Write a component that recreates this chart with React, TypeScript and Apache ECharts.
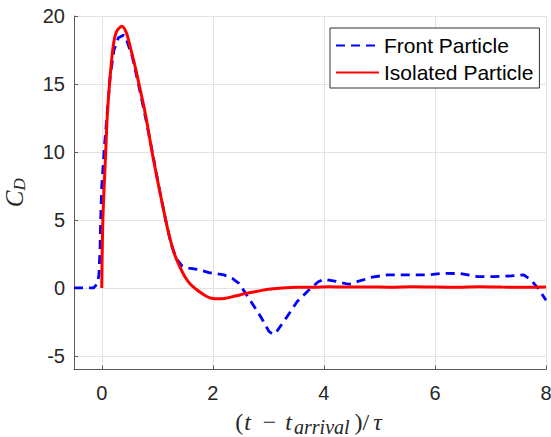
import React, { useEffect, useRef } from "react";
import * as echarts from "echarts";

const xTicks = [0, 2, 4, 6, 8];
const yTicks = [-5, 0, 5, 10, 15, 20];

const frontX = [
  -0.5, -0.15, -0.08, -0.05, -0.03, -0.02, 0.0, 0.05, 0.1, 0.15, 0.22, 0.3, 0.4, 0.45, 0.55, 0.67, 0.8,
  0.92, 1.05, 1.15, 1.25, 1.35, 1.45, 1.57, 1.75, 1.93, 2.2, 2.35, 2.47, 2.65, 2.86, 3.01, 3.08, 3.13,
  3.34, 3.52, 3.73, 3.9, 4.0, 4.24, 4.45, 4.6, 4.87, 5.14, 5.5, 5.86, 6.16, 6.46, 6.77, 7.07, 7.37, 7.6,
  7.73, 7.88, 8.0,
];
const frontY = [
  0, 0, 0.3, 1.0, 3.0, 5.0, 7.5, 10.5, 13.0, 15.5, 17.5, 18.4, 18.6, 18.2, 17.0, 14.8, 12.3,
  9.8, 7.0, 5.0, 3.2, 2.1, 1.6, 1.45, 1.35, 1.13, 0.96, 0.7, 0.34, -0.76, -2.1, -3.2, -3.4, -3.33,
  -2.1, -1.0, -0.15, 0.45, 0.64, 0.46, 0.27, 0.46, 0.79, 0.96, 0.96, 0.96, 1.08, 1.05, 0.83, 0.83, 0.88, 0.96,
  0.59, -0.15, -0.9,
];

const isoX = [
  0, 0.02, 0.07, 0.1, 0.14, 0.2, 0.26, 0.36, 0.44, 0.52, 0.6, 0.67, 0.79, 0.91, 1.0, 1.1, 1.2, 1.3, 1.4,
  1.5, 1.6, 1.7, 1.8, 1.9, 2.0, 2.1, 2.2, 2.4, 2.6, 2.8, 3.0, 3.2, 3.5, 3.8, 4.1, 4.4, 4.8, 5.2, 5.6,
  6.0, 6.4, 6.8, 7.2, 7.6, 8.0,
];
const isoY = [
  0, 5, 9.9, 12.7, 15, 17.6, 18.8, 19.25, 18.8, 17.6, 16.3, 15, 12.7, 9.9, 8.0, 6.0, 4.1, 2.6, 1.6,
  0.8, 0.25, -0.1, -0.4, -0.65, -0.78, -0.8, -0.78, -0.6, -0.4, -0.25, -0.1, -0.02, 0.05, 0.05, 0.08, 0.06, 0.07, 0.05, 0.08,
  0.06, 0.05, 0.08, 0.06, 0.05, 0.07,
];

const seriesNames = ["Front Particle", "Isolated Particle"];

export default function App() {
  const ref = useRef<HTMLDivElement>(null);
  useEffect(() => {
    if (!ref.current) return;
    const chart = echarts.init(ref.current, null, { renderer: "svg" });
    const front = frontX.map((x, i) => [x, frontY[i]]);
    const iso = isoX.map((x, i) => [x, isoY[i]]);
    const serif = "Liberation Serif";
    const ink = "#262626";
    chart.setOption({
      animation: false,
      backgroundColor: "#ffffff",
      grid: { left: 74, right: 5, top: 16, bottom: 67.5, containLabel: false, outerBoundsMode: "none" },
      legend: {
        left: 330,
        top: 28,
        orient: "vertical",
        data: seriesNames,
        itemWidth: 43,
        itemHeight: 14,
        itemGap: 6,
        padding: [7, 6, 5, 5],
        backgroundColor: "#ffffff",
        borderColor: "#333333",
        borderWidth: 1,
        borderRadius: 0,
        itemStyle: { opacity: 0, borderWidth: 0 },
        textStyle: { fontSize: 21, color: "#000000", fontFamily: "Liberation Sans" },
      },
      xAxis: {
        type: "value",
        min: -0.5,
        max: 8,
        name: "{p|(}{i|t}{m|−}{j|t}{s|arrival}{q|)/}{i|τ}",
        nameLocation: "middle",
        nameGap: 40,
        nameTextStyle: {
          rich: {
            p: { fontFamily: serif, fontSize: 24, color: ink, lineHeight: 24, padding: [0, 1, 0, 0] },
            i: { fontFamily: serif, fontSize: 24, fontStyle: "italic", color: ink, lineHeight: 24, padding: [0, 3, 0, 0] },
            j: { fontFamily: serif, fontSize: 24, fontStyle: "italic", color: ink, lineHeight: 24 },
            m: { fontFamily: serif, fontSize: 24, color: ink, lineHeight: 24, padding: [0, 9, 0, 9] },
            q: { fontFamily: serif, fontSize: 24, color: ink, lineHeight: 24, padding: [0, 4, 0, 3] },
            s: { fontFamily: serif, fontSize: 20, fontStyle: "italic", color: ink, lineHeight: 14, padding: [10, 2, 0, 2] },
          },
        },
        axisLine: { show: true, onZero: false, lineStyle: { color: "#5a5a5a", width: 1 } },
        axisTick: { show: true, inside: true, length: 4, customValues: xTicks, lineStyle: { color: "#5a5a5a" } },
        axisLabel: { customValues: xTicks, fontSize: 20, color: ink, fontFamily: "Liberation Sans", margin: 13 },
        splitLine: { show: true, lineStyle: { color: "#e3e3e3", width: 1 } },
      },
      yAxis: {
        type: "value",
        min: -6,
        max: 20,
        name: "{c|C}{d|D}",
        nameLocation: "middle",
        nameGap: 46,
        nameTextStyle: {
          rich: {
            c: { fontFamily: serif, fontSize: 25, fontStyle: "italic", color: ink, lineHeight: 28 },
            d: { fontFamily: serif, fontSize: 17, fontStyle: "italic", color: ink, padding: [10, 0, 0, 0] },
          },
        },
        axisLine: { show: true, onZero: false, lineStyle: { color: "#5a5a5a", width: 1 } },
        axisTick: { show: true, inside: true, length: 4, customValues: yTicks, lineStyle: { color: "#5a5a5a" } },
        axisLabel: { customValues: yTicks, fontSize: 20, color: ink, fontFamily: "Liberation Sans", margin: 9 },
        splitLine: { show: true, lineStyle: { color: "#e3e3e3", width: 1 } },
      },
      series: [
        {
          name: seriesNames[0],
          type: "line",
          data: front,
          symbol: "none",
          showSymbol: false,
          z: 2,
          lineStyle: { color: "#0000ff", width: 2.8, type: [9, 6] },
          itemStyle: { color: "#0000ff" },
        },
        {
          name: seriesNames[1],
          type: "line",
          data: iso,
          symbol: "none",
          showSymbol: false,
          smooth: 0.3,
          z: 3,
          lineStyle: { color: "#ff0000", width: 3 },
          itemStyle: { color: "#ff0000" },
        },
      ],
    });
    return () => chart.dispose();
  }, []);
  return (
    <div
      ref={ref}
      style={{ position: "absolute", left: 0, top: 0, width: 551, height: 437, overflow: "hidden" }}
    />
  );
}
